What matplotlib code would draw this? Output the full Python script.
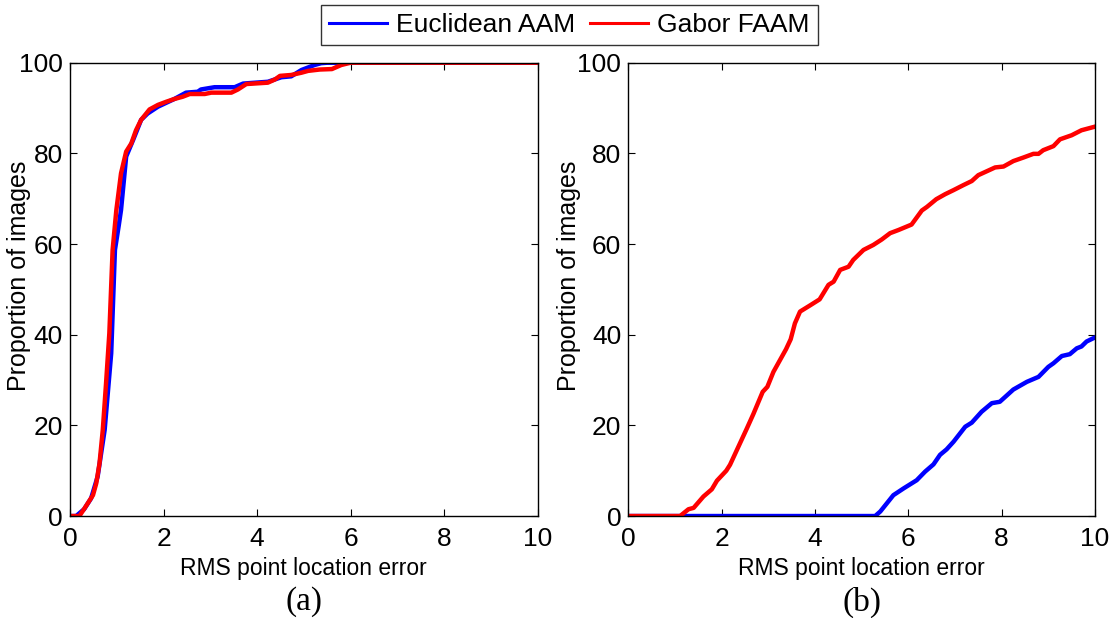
import matplotlib.pyplot as plt
import numpy as np

plt.rcParams["font.family"] = ["Liberation Sans", "DejaVu Sans"]

# (a) cumulative error curves
a_eucl_x = [0, 0.13, 0.3, 0.45, 0.59, 0.74, 0.88, 0.96, 1.04, 1.09, 1.2, 1.35, 1.52,
            1.66, 1.88, 2.23, 2.48, 2.73, 2.8, 3.09, 3.52, 3.7, 4.23, 4.52, 4.73,
            4.95, 5.23, 5.37, 5.5, 10]
a_eucl_y = [0, 0, 1.5, 3.9, 8.7, 19, 35.9, 58.7, 64, 67.5, 79.3, 83, 87.4,
            88.8, 90.3, 92, 93.4, 93.6, 94.1, 94.6, 94.6, 95.4, 95.8, 96.8, 97,
            98.4, 99.5, 99.9, 100, 100]
a_gabor_x = [0, 0.2, 0.31, 0.49, 0.56, 0.63, 0.7, 0.77, 0.84, 0.91, 0.99, 1.09, 1.2,
             1.31, 1.41, 1.52, 1.7, 1.88, 2.06, 2.23, 2.41, 2.56, 2.88, 3.02, 3.45,
             3.59, 3.77, 4.23, 4.38, 4.49, 4.73, 4.95, 5.09, 5.34, 5.6, 5.8, 6.0, 10]
a_gabor_y = [0, 0, 1.7, 4.6, 7.2, 11.6, 19, 29.3, 40.3, 58.7, 67.5, 75.6, 80.4,
             82.2, 85.1, 87.4, 89.7, 90.7, 91.4, 92, 92.5, 93.1, 93.1, 93.4, 93.4,
             94.1, 95.3, 95.6, 96.3, 97.1, 97.3, 97.8, 98.2, 98.5, 98.6, 99.5, 100, 100]

# (b) cumulative error curves
b_eucl_x = [0, 5.29, 5.4, 5.54, 5.68, 5.9, 6.18, 6.36, 6.54, 6.68, 6.82, 6.97, 7.22,
            7.36, 7.57, 7.79, 7.96, 8.25, 8.54, 8.79, 9.0, 9.11, 9.29, 9.46, 9.61,
            9.71, 9.82, 10]
b_eucl_y = [0, 0, 1, 2.8, 4.6, 6.1, 7.9, 9.8, 11.4, 13.5, 14.7, 16.4, 19.7,
            20.6, 23, 24.9, 25.2, 27.9, 29.6, 30.7, 32.9, 33.7, 35.3, 35.7, 37,
            37.4, 38.5, 39.4]
b_gabor_x = [0, 1.11, 1.29, 1.4, 1.61, 1.79, 1.9, 2.1, 2.18, 2.54, 2.68, 2.88, 2.98,
             3.11, 3.38, 3.48, 3.57, 3.68, 3.9, 4.1, 4.29, 4.4, 4.54, 4.72, 4.82,
             5.04, 5.25, 5.43, 5.61, 5.79, 6.07, 6.29, 6.4, 6.6, 6.79, 6.97, 7.18,
             7.36, 7.5, 7.86, 8.04, 8.25, 8.47, 8.68, 8.79, 8.89, 9.11, 9.25, 9.5,
             9.71, 10]
b_gabor_y = [0, 0, 1.5, 1.8, 4.3, 5.9, 7.8, 10, 11.3, 19.3, 22.5, 27.4, 28.5,
             31.8, 36.8, 39, 42.5, 45.1, 46.5, 47.8, 51, 51.7, 54.3, 55, 56.5,
             58.7, 59.8, 61, 62.4, 63.1, 64.3, 67.4, 68.2, 69.9, 71, 71.9, 73,
             73.9, 75.2, 76.9, 77.1, 78.3, 79.1, 79.9, 79.9, 80.7, 81.6, 83.1, 84,
             85.1, 85.9]

x_ticks = [0, 2, 4, 6, 8, 10]
y_ticks = [0, 20, 40, 60, 80, 100]

fig = plt.figure(figsize=(11.12, 6.18), dpi=100)
ax_a = fig.add_axes([0.063, 0.165, 0.4205, 0.7335])
ax_b = fig.add_axes([0.565, 0.165, 0.4197, 0.7335])

panels = [
    (ax_a, a_eucl_x, a_eucl_y, a_gabor_x, a_gabor_y, "(a)", -0.083),
    (ax_b, b_eucl_x, b_eucl_y, b_gabor_x, b_gabor_y, "(b)", -0.101),
]

for ax, ex, ey, gx, gy, tag, ylab_x in panels:
    ax.plot(ex, ey, color="#0000ff", lw=3.2, label="Euclidean AAM", solid_joinstyle="round")
    ax.plot(gx, gy, color="#ff0000", lw=3.2, label="Gabor FAAM", solid_joinstyle="round")
    ax.set_xlim(0, 10)
    ax.set_ylim(0, 100)
    ax.set_xticks(x_ticks)
    ax.set_yticks(y_ticks)
    ax.tick_params(direction="in", top=True, right=True, length=5, width=0.8,
                   labelsize=19)
    ax.tick_params(axis="x", pad=8)
    ax.tick_params(axis="y", pad=5)
    for s in ax.spines.values():
        s.set_linewidth(1.0)
    ax.set_xlabel("RMS point location error", fontsize=16.5, labelpad=4)
    ax.set_ylabel("Proportion of images", fontsize=18, va="bottom")
    ax.yaxis.set_label_coords(ylab_x, 0.53)
    bb = ax.get_position()
    fig.text((bb.x0 + bb.x1) / 2, 0.026, tag, ha="center", va="center",
             fontsize=24, family=["Liberation Serif", "DejaVu Serif"])

handles, labels = ax_a.get_legend_handles_labels()
leg = fig.legend(handles, labels, loc="upper center", bbox_to_anchor=(0.512, 0.992),
                 ncol=2, fontsize=19, frameon=True, fancybox=False, edgecolor="black",
                 borderaxespad=0, handlelength=2.2, handletextpad=0.35,
                 columnspacing=0.55, borderpad=0.3)
leg.get_frame().set_linewidth(1.0)
for line in leg.get_lines():
    line.set_linewidth(2.2)

fig.savefig("out.png", dpi=100)
